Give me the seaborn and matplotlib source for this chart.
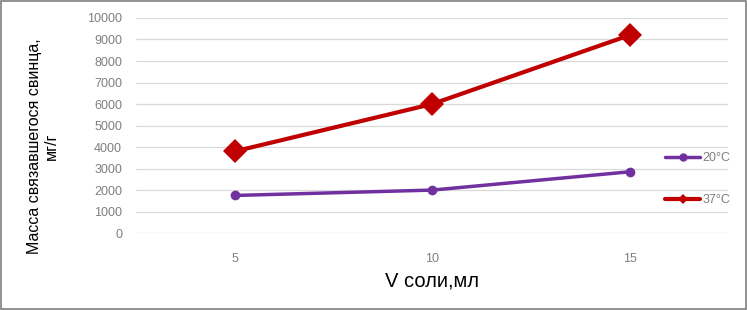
"""Mass of bound lead vs. salt volume at two temperatures."""

import matplotlib
matplotlib.use("Agg")
import matplotlib.pyplot as plt
import pandas as pd
import seaborn as sns

volumes = [5, 10, 15]
mass_20 = [1750, 2000, 2850]
mass_37 = [3800, 6000, 9200]
series_labels = ["20°C", "37°C"]
y_ticks = list(range(0, 10001, 1000))


def main():
    sns.set_theme(style="white")
    plt.rcParams["font.family"] = ["Liberation Sans", "DejaVu Sans"]

    df = pd.DataFrame({
        "V": volumes * 2,
        "mass": mass_20 + mass_37,
        "series": [series_labels[0]] * 3 + [series_labels[1]] * 3,
    })

    fig = plt.figure(figsize=(7.47, 3.10), dpi=100)
    ax = fig.add_axes([0.182, 0.248, 0.793, 0.694])

    palette = {series_labels[0]: "#7030A0", series_labels[1]: "#C00000"}
    sns.lineplot(data=df[df.series == series_labels[0]], x="V", y="mass",
                 color=palette[series_labels[0]], marker="o", markersize=7,
                 linewidth=2.5, markeredgewidth=0, label=series_labels[0], ax=ax)
    sns.lineplot(data=df[df.series == series_labels[1]], x="V", y="mass",
                 color=palette[series_labels[1]], marker="D", markersize=12,
                 linewidth=3, markeredgewidth=0, label=series_labels[1], ax=ax)

    ax.set_xlim(2.5, 17.5)
    ax.set_ylim(0, 10000)
    ax.set_xticks(volumes)
    ax.set_yticks(y_ticks)
    ax.tick_params(axis="both", length=0, labelsize=9, colors="#7f7f7f")
    ax.tick_params(axis="y", pad=10)
    ax.tick_params(axis="x", pad=14)
    ax.grid(axis="y", color="#d9d9d9", linewidth=0.9)
    ax.set_axisbelow(True)
    for s in ax.spines.values():
        s.set_visible(False)

    ax.set_xlabel("V соли,мл", fontsize=14.5, color="#000000", labelpad=5)
    ax.set_ylabel("Масса связавшегося свинца,\nмг/г", fontsize=11.5,
                  color="#000000", multialignment="center")
    ax.yaxis.set_label_coords(-0.13, 0.405)

    leg = ax.legend(loc="center left", bbox_to_anchor=(0.885, 0.25),
                    frameon=False, fontsize=9, labelspacing=2.4,
                    handlelength=2.8, handletextpad=0.2, borderaxespad=0)
    for t in leg.get_texts():
        t.set_color("#7f7f7f")
    for h, ms in zip(leg.legend_handles, [6, 5]):
        h.set_markersize(ms)

    fig.patches.append(plt.Rectangle((0.001, 0.002), 0.997, 0.996,
                                     transform=fig.transFigure, fill=False,
                                     edgecolor="#7f7f7f", linewidth=1.2))

    fig.savefig("out.png", dpi=100)


if __name__ == "__main__":
    main()
